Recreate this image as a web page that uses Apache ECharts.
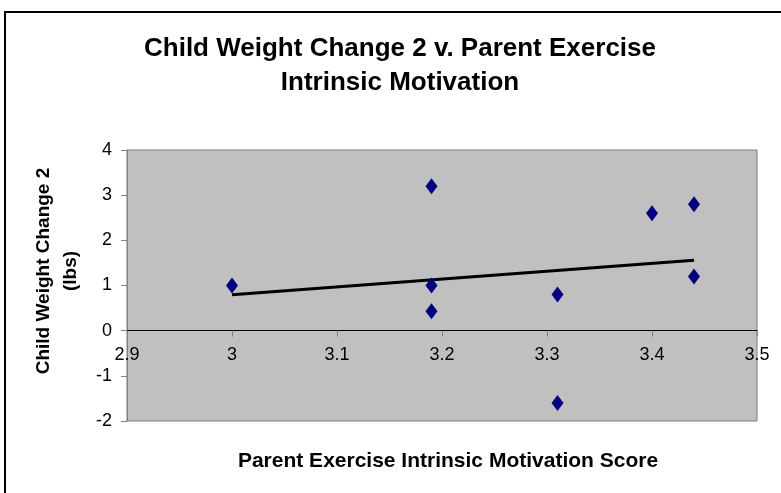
<!DOCTYPE html>
<html>
<head>
<meta charset="utf-8">
<script src="https://cdn.jsdelivr.net/npm/echarts@6/dist/echarts.min.js"></script>
<style>
  html, body { margin: 0; padding: 0; background: #fff; }
  #main { width: 781px; height: 493px; }
</style>
</head>
<body>
<div id="main"></div>
<script>
// scores and weight changes
var motivationScore = [3.0, 3.19, 3.19, 3.19, 3.31, 3.31, 3.4, 3.44, 3.44]
var weightChange = [1.0, 3.2, 1.0, 0.43, 0.8, -1.6, 2.6, 2.8, 1.2]
var xTicks = {min: 2.9, max: 3.5, interval: 0.1}
var yTicks = {min: -2, max: 4, interval: 1}

// least squares trend line, like excel's linear trendline
function trend(xs, ys) {
  var n = xs.length, mx = 0, my = 0
  for (var i = 0; i < n; i++) { mx += xs[i]; my += ys[i] }
  mx /= n; my /= n
  var sxy = 0, sxx = 0
  for (var j = 0; j < n; j++) {
    sxy += (xs[j] - mx) * (ys[j] - my)
    sxx += (xs[j] - mx) * (xs[j] - mx)
  }
  var slope = sxy / sxx
  var x0 = Math.min.apply(null, xs), x1 = Math.max.apply(null, xs)
  return [[x0, my + slope * (x0 - mx)], [x1, my + slope * (x1 - mx)]]
}

var points = motivationScore.map(function (x, i) { return [x, weightChange[i]] })
var font = 'Liberation Sans, Arial, sans-serif'

var gridTop = 150, gridBottom = 72, gridH = 493 - gridTop - gridBottom
// x axis sits on y = 0, so shift it up from the grid bottom
var zeroShift = gridH * (0 - yTicks.min) / (yTicks.max - yTicks.min)

var chart = echarts.init(document.getElementById('main'), null, {renderer: 'canvas'})
chart.setOption({
  animation: false,
  backgroundColor: '#fff',
  title: [
    {
      text: 'Child Weight Change 2 v. Parent Exercise\nIntrinsic Motivation',
      left: 395, top: 27, textAlign: 'center',
      textStyle: {fontFamily: font, fontSize: 26, fontWeight: 'bold', color: '#000', lineHeight: 34}
    },
    {
      text: 'Parent Exercise Intrinsic Motivation Score',
      left: 443, top: 446, textAlign: 'center',
      textStyle: {fontFamily: font, fontSize: 21, fontWeight: 'bold', color: '#000'}
    }
  ],
  graphic: [
    {
      type: 'rect',
      shape: {x: 5, y: 12, width: 800, height: 520},
      style: {fill: 'none', stroke: '#000', lineWidth: 2},
      silent: true
    },
    {
      type: 'text',
      x: 57, y: 271,
      rotation: Math.PI / 2,
      style: {
        text: 'Child Weight Change 2\n(lbs)',
        font: 'bold 19px ' + font,
        fill: '#000',
        align: 'center',
        verticalAlign: 'middle',
        lineHeight: 27
      }
    }
  ],
  grid: {
    left: 127, right: 24, top: gridTop, bottom: gridBottom,
    show: true, backgroundColor: '#c0c0c0', borderColor: '#808080', borderWidth: 1,
    containLabel: false, outerBoundsMode: 'none'
  },
  xAxis: {
    type: 'value',
    min: xTicks.min, max: xTicks.max, interval: xTicks.interval,
    offset: -zeroShift,
    axisLine: {show: true, onZero: false, lineStyle: {color: '#000', width: 1}},
    axisTick: {show: true, inside: false, length: 6, lineStyle: {color: '#808080'}},
    axisLabel: {fontFamily: font, fontSize: 18, color: '#000', margin: 15, hideOverlap: false},
    splitLine: {show: false}
  },
  yAxis: {
    type: 'value',
    min: yTicks.min, max: yTicks.max, interval: yTicks.interval,
    axisLine: {show: true, onZero: false, lineStyle: {color: '#808080', width: 1}},
    axisTick: {show: true, inside: false, length: 6, lineStyle: {color: '#808080'}},
    axisLabel: {fontFamily: font, fontSize: 18, color: '#000', margin: 15, hideOverlap: false},
    splitLine: {show: false}
  },
  series: [
    {
      type: 'line',
      data: trend(motivationScore, weightChange),
      showSymbol: false,
      symbol: 'none',
      lineStyle: {color: '#000', width: 3},
      z: 2
    },
    {
      type: 'scatter',
      data: points,
      symbol: 'diamond',
      symbolSize: [12, 16],
      itemStyle: {color: '#000080', opacity: 1},
      z: 3
    }
  ]
})
</script>
</body>
</html>
